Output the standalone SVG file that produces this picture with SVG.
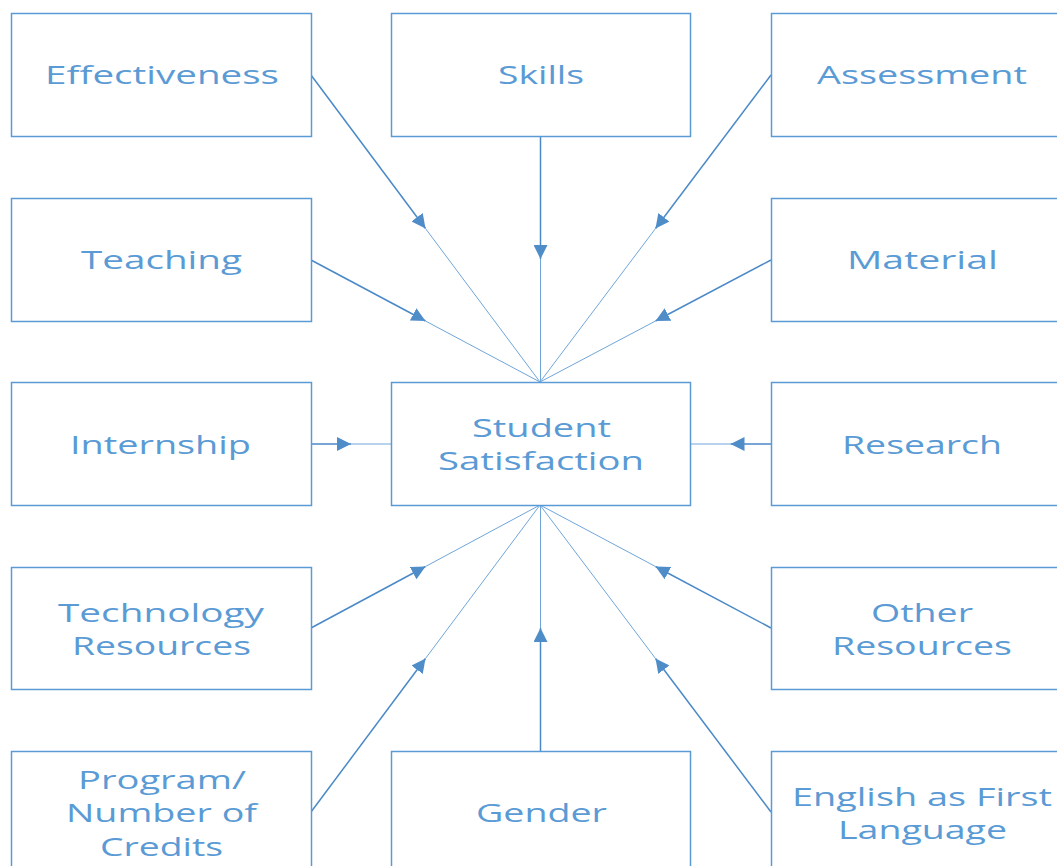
<svg xmlns="http://www.w3.org/2000/svg" width="1057" height="866" viewBox="0 0 1057 866">
<defs>
<style>
.box{fill:#ffffff;stroke:#5b9bd5;stroke-width:1.5}
.t{font-family:"Open Sans","Noto Sans",sans-serif;font-size:25px;fill:#5b9bd5;text-anchor:middle}
.a{stroke:#4a89c8;stroke-width:1.5;fill:none}
.b{stroke:#6fa6da;stroke-width:1;fill:none}
</style>
<marker id="ah" markerUnits="userSpaceOnUse" markerWidth="14" markerHeight="14" refX="12" refY="6" orient="auto" viewBox="0 0 12 12">
<path d="M0,0 L12,6 L0,12 z" fill="#4f8dc9"/>
</marker>
</defs>
<rect width="1057" height="866" fill="#ffffff"/>
<g id="connectors">
<line class="a" x1="311" y1="75" x2="425.5" y2="228.5" marker-end="url(#ah)"/>
<line class="b" x1="425.5" y1="228.5" x2="540" y2="382"/>
<line class="a" x1="540.5" y1="136" x2="540.5" y2="259" marker-end="url(#ah)"/>
<line class="b" x1="540.5" y1="259" x2="540.5" y2="382"/>
<line class="a" x1="771" y1="75" x2="655.5" y2="228.5" marker-end="url(#ah)"/>
<line class="b" x1="655.5" y1="228.5" x2="540" y2="382"/>
<line class="a" x1="311" y1="260" x2="425.5" y2="321" marker-end="url(#ah)"/>
<line class="b" x1="425.5" y1="321" x2="540" y2="382"/>
<line class="a" x1="771" y1="260" x2="655.5" y2="321" marker-end="url(#ah)"/>
<line class="b" x1="655.5" y1="321" x2="540" y2="382"/>
<line class="a" x1="311" y1="444" x2="351" y2="444" marker-end="url(#ah)"/>
<line class="b" x1="351" y1="444" x2="391" y2="444"/>
<line class="a" x1="771" y1="444" x2="730.5" y2="444" marker-end="url(#ah)"/>
<line class="b" x1="730.5" y1="444" x2="690" y2="444"/>
<line class="a" x1="311" y1="628" x2="425.5" y2="566.5" marker-end="url(#ah)"/>
<line class="b" x1="425.5" y1="566.5" x2="540" y2="505"/>
<line class="a" x1="771" y1="628" x2="655.5" y2="566.5" marker-end="url(#ah)"/>
<line class="b" x1="655.5" y1="566.5" x2="540" y2="505"/>
<line class="a" x1="311" y1="812" x2="425.5" y2="658.5" marker-end="url(#ah)"/>
<line class="b" x1="425.5" y1="658.5" x2="540" y2="505"/>
<line class="a" x1="540.5" y1="751" x2="540.5" y2="628" marker-end="url(#ah)"/>
<line class="b" x1="540.5" y1="628" x2="540.5" y2="505"/>
<line class="a" x1="771" y1="812" x2="655.5" y2="658.5" marker-end="url(#ah)"/>
<line class="b" x1="655.5" y1="658.5" x2="540" y2="505"/>
</g>
<g id="effectiveness"><rect class="box" x="11.5" y="13.5" width="300" height="123"/><text class="t" x="162" y="83.5" textLength="234" lengthAdjust="spacingAndGlyphs">Effectiveness</text></g>
<g id="skills"><rect class="box" x="391.5" y="13.5" width="299" height="123"/><text class="t" x="541" y="83.5" textLength="86" lengthAdjust="spacingAndGlyphs">Skills</text></g>
<g id="assessment"><rect class="box" x="771.5" y="13.5" width="300" height="123"/><text class="t" x="922" y="83.5" textLength="210" lengthAdjust="spacingAndGlyphs">Assessment</text></g>
<g id="teaching"><rect class="box" x="11.5" y="198.5" width="300" height="123"/><text class="t" x="161.5" y="268.5" textLength="161" lengthAdjust="spacingAndGlyphs">Teaching</text></g>
<g id="material"><rect class="box" x="771.5" y="198.5" width="300" height="123"/><text class="t" x="922.5" y="268.5" textLength="151" lengthAdjust="spacingAndGlyphs">Material</text></g>
<g id="internship"><rect class="box" x="11.5" y="382.5" width="300" height="123"/><text class="t" x="160.5" y="453.5" textLength="181" lengthAdjust="spacingAndGlyphs">Internship</text></g>
<g id="student-satisfaction"><rect class="box" x="391.5" y="382.5" width="299" height="123"/><text class="t" x="541.5" y="436.5" textLength="139" lengthAdjust="spacingAndGlyphs">Student</text><text class="t" x="541" y="469.5" textLength="206" lengthAdjust="spacingAndGlyphs">Satisfaction</text></g>
<g id="research"><rect class="box" x="771.5" y="382.5" width="300" height="123"/><text class="t" x="922" y="453.5" textLength="160" lengthAdjust="spacingAndGlyphs">Research</text></g>
<g id="technology-resources"><rect class="box" x="11.5" y="567.5" width="300" height="122"/><text class="t" x="161" y="621.5" textLength="206" lengthAdjust="spacingAndGlyphs">Technology</text><text class="t" x="161.5" y="654.5" textLength="179" lengthAdjust="spacingAndGlyphs">Resources</text></g>
<g id="other-resources"><rect class="box" x="771.5" y="567.5" width="300" height="122"/><text class="t" x="922" y="621.5" textLength="102" lengthAdjust="spacingAndGlyphs">Other</text><text class="t" x="922" y="654.5" textLength="180" lengthAdjust="spacingAndGlyphs">Resources</text></g>
<g id="program"><rect class="box" x="11.5" y="751.5" width="300" height="123"/><text class="t" x="162" y="788.5" textLength="168" lengthAdjust="spacingAndGlyphs">Program/</text><text class="t" x="161.5" y="822" textLength="191" lengthAdjust="spacingAndGlyphs">Number of</text><text class="t" x="161.5" y="855.5" textLength="123" lengthAdjust="spacingAndGlyphs">Credits</text></g>
<g id="gender"><rect class="box" x="391.5" y="751.5" width="299" height="123"/><text class="t" x="541.5" y="822" textLength="131" lengthAdjust="spacingAndGlyphs">Gender</text></g>
<g id="english"><rect class="box" x="771.5" y="751.5" width="300" height="123"/><text class="t" x="922" y="805.5" textLength="260" lengthAdjust="spacingAndGlyphs">English as First</text><text class="t" x="922.5" y="838.5" textLength="169" lengthAdjust="spacingAndGlyphs">Language</text></g>
</svg>
